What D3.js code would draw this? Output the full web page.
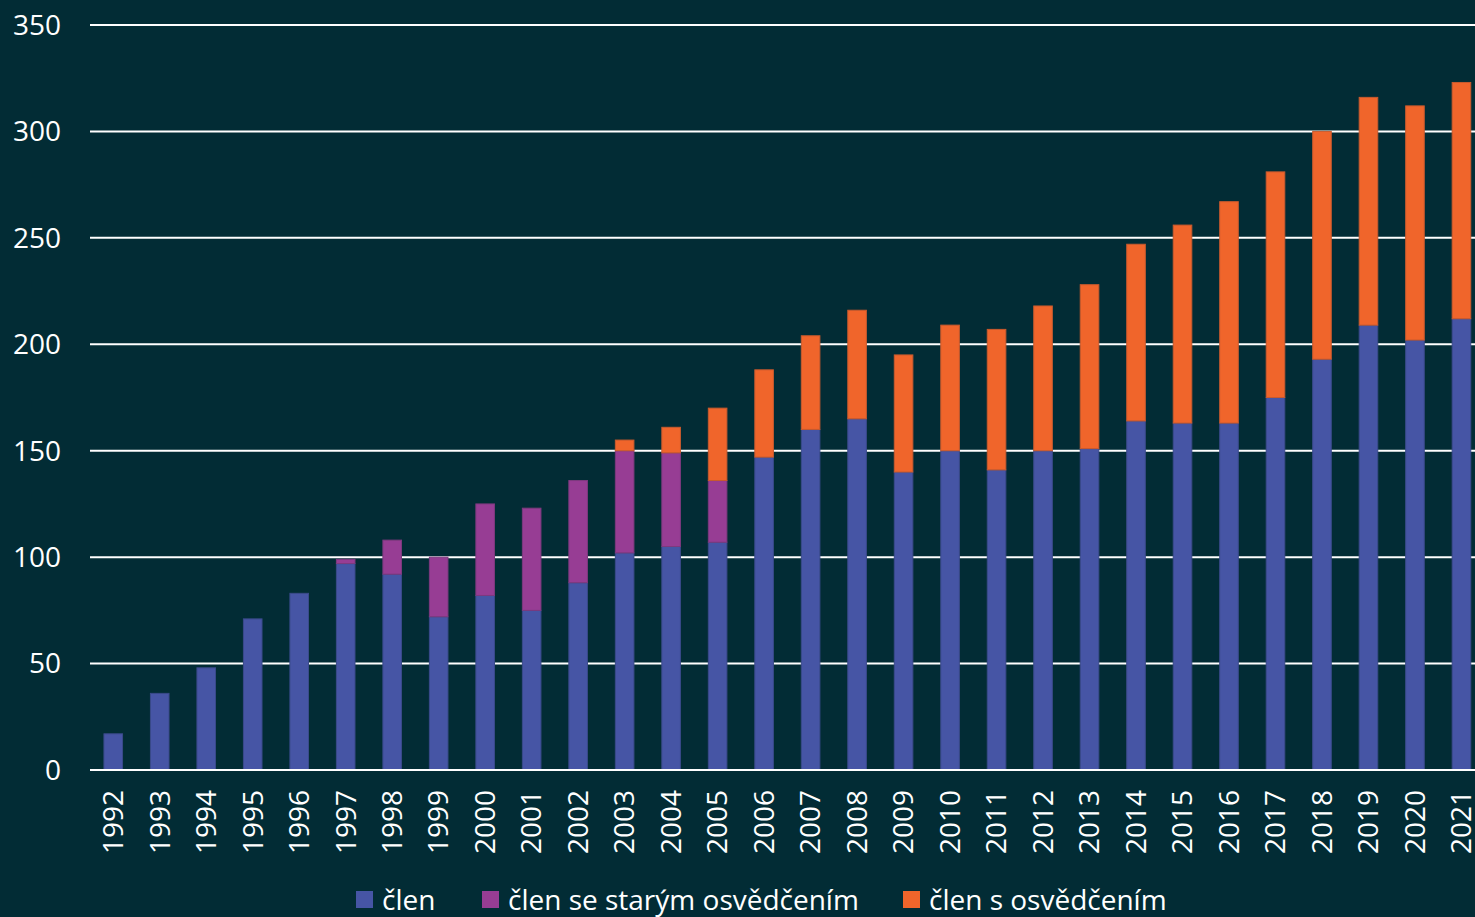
<!DOCTYPE html>
<html>
<head>
<meta charset="utf-8">
<script src="https://cdn.jsdelivr.net/npm/d3@7"></script>
<style>
  html, body { margin: 0; padding: 0; background: #022c35; }
  svg { display: block; }
  text { font-family: "Open Sans", "DejaVu Sans", sans-serif; fill: #ffffff; }
</style>
</head>
<body>
<svg id="chart"></svg>
<script>
const width = 1475;
const height = 917;

// data
const years = d3.range(1992, 2022).map(String);
const clen = [17, 36, 48, 71, 83, 97, 92, 72, 82, 75, 88, 102, 105, 107, 147, 160, 165, 140, 150, 141, 150, 151, 164, 163, 163, 175, 193, 209, 202, 212];
const clenStare = [0, 0, 0, 0, 0, 2, 16, 28, 43, 48, 48, 48, 44, 29, 0, 0, 0, 0, 0, 0, 0, 0, 0, 0, 0, 0, 0, 0, 0, 0];
const clenOsv = [0, 0, 0, 0, 0, 0, 0, 0, 0, 0, 0, 5, 12, 34, 41, 44, 51, 55, 59, 66, 68, 77, 83, 93, 104, 106, 107, 107, 110, 111];
const yTicks = [0, 50, 100, 150, 200, 250, 300, 350];

const seriesKeys = ["clen", "clenStare", "clenOsv"];
const seriesNames = ["člen", "člen se starým osvědčením", "člen s osvědčením"];
const colors = ["#4655a5", "#973d94", "#f0652b"];
const strokes = ["#3a4a8a", "#7d3a7e", "#c85a2e"];

const rows = years.map((y, i) => ({
  year: y,
  clen: clen[i],
  clenStare: clenStare[i],
  clenOsv: clenOsv[i],
}));

const margin = { left: 90, top: 25, bottom: 147 };
const plotBottom = height - margin.bottom; // 770
const fontSize = 28;

const svg = d3.select("#chart").attr("width", width).attr("height", height);

const x = d3.scaleBand()
  .domain(years)
  .range([margin.left, margin.left + 30 * 46.49])
  .paddingInner(0.6)
  .paddingOuter(0.3);

const y = d3.scaleLinear().domain([0, 350]).range([plotBottom, margin.top]);

// gridlines
svg.append("g")
  .selectAll("line")
  .data(yTicks)
  .join("line")
  .attr("x1", margin.left)
  .attr("x2", width)
  .attr("y1", (d) => y(d))
  .attr("y2", (d) => y(d))
  .attr("stroke", "#ffffff")
  .attr("stroke-width", 2);

// y labels
svg.append("g")
  .selectAll("text")
  .data(yTicks)
  .join("text")
  .attr("x", 61)
  .attr("y", (d) => y(d))
  .attr("dy", "0.35em")
  .attr("text-anchor", "end")
  .attr("font-size", fontSize)
  .text((d) => d);

// stacked bars
const stacked = d3.stack().keys(seriesKeys)(rows);

svg.append("g")
  .selectAll("g")
  .data(stacked)
  .join("g")
  .attr("fill", (d, i) => colors[i])
  .attr("stroke", (d, i) => strokes[i])
  .attr("stroke-width", 1)
  .selectAll("rect")
  .data((d) => d.filter((p) => p[1] - p[0] > 0))
  .join("rect")
  .attr("x", (d) => x(d.data.year))
  .attr("width", x.bandwidth())
  .attr("y", (d) => y(d[1]))
  .attr("height", (d) => y(d[0]) - y(d[1]));

// baseline on top
svg.append("line")
  .attr("x1", margin.left)
  .attr("x2", width)
  .attr("y1", y(0))
  .attr("y2", y(0))
  .attr("stroke", "#ffffff")
  .attr("stroke-width", 2);

// x labels
svg.append("g")
  .selectAll("text")
  .data(years)
  .join("text")
  .attr("transform", (d) => `translate(${x(d) + x.bandwidth() / 2},790) rotate(-90)`)
  .attr("dy", "0.35em")
  .attr("text-anchor", "end")
  .attr("font-size", fontSize)
  .text((d) => d);

// legend
const legendX = [356, 482, 903];
const legend = svg.append("g")
  .selectAll("g")
  .data(seriesNames)
  .join("g")
  .attr("transform", (d, i) => `translate(${legendX[i]},891)`);

legend.append("rect")
  .attr("width", 17)
  .attr("height", 17)
  .attr("fill", (d, i) => colors[i]);

legend.append("text")
  .attr("x", 26)
  .attr("y", 19)
  .attr("font-size", fontSize)
  .text((d) => d);
</script>
</body>
</html>
